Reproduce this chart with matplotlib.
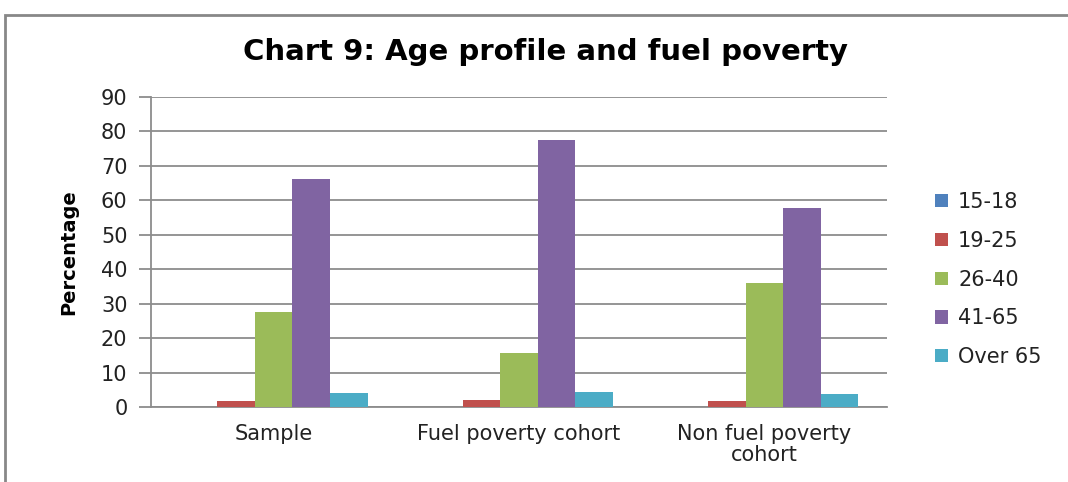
import matplotlib.pyplot as plt
import numpy as np
from matplotlib.patches import Rectangle

categories = ['Sample', 'Fuel poverty cohort', 'Non fuel poverty\ncohort']
groups = ['15-18', '19-25', '26-40', '41-65', 'Over 65']
age_15_18 = [0.0, 0.0, 0.0]
age_19_25 = [2.0, 2.3, 1.9]
age_26_40 = [27.7, 15.8, 36.1]
age_41_65 = [66.1, 77.4, 57.9]
age_over_65 = [4.1, 4.6, 3.8]
series = [age_15_18, age_19_25, age_26_40, age_41_65, age_over_65]
colors = ['#4F81BD', '#C0504D', '#9BBB59', '#8064A2', '#4BACC6']

fig = plt.figure(figsize=(10.68, 4.82), dpi=100)
ax = fig.add_axes([0.1414, 0.1546, 0.6891, 0.6442])

x = np.arange(len(categories))
w = 0.153
for i, (vals, c, lab) in enumerate(zip(series, colors, groups)):
    ax.bar(x + (i - 2) * w, vals, w, color=c, label=lab, zorder=3)

ax.set_xlim(-0.5, 2.5)
ax.set_ylim(0, 90)
ax.set_yticks(range(0, 91, 10))
ax.yaxis.grid(True, color='#8c8c8c', linewidth=1.3, zorder=0)
for s in ['top', 'right']:
    ax.spines[s].set_visible(False)
ax.spines['left'].set_color('#8c8c8c')
ax.spines['left'].set_linewidth(1.3)
ax.spines['bottom'].set_color('#8c8c8c')
ax.spines['bottom'].set_linewidth(1.3)
ax.tick_params(axis='y', length=9, width=1.3, color='#8c8c8c', labelsize=15, pad=8)
ax.tick_params(axis='x', length=0, labelsize=15, pad=12)
ax.set_xticks(x)
ax.set_xticklabels(categories, linespacing=1.05)
for t in ax.get_xticklabels() + ax.get_yticklabels():
    t.set_color('#222222')

ax.set_ylabel('Percentage', fontsize=14, fontweight='bold', labelpad=16)

fig.text(0.511, 0.893, 'Chart 9: Age profile and fuel poverty', ha='center', va='center',
         fontsize=21, fontweight='bold')

leg = ax.legend(loc='center left', bbox_to_anchor=(0.858, 0.42), bbox_transform=fig.transFigure,
                frameon=False, fontsize=15, handlelength=0.6, handleheight=0.6,
                labelspacing=0.9, handletextpad=0.5)
for t in leg.get_texts():
    t.set_color('#222222')

fig.patches.append(Rectangle((5 / 1068, -0.1), 1.2, 1 - 15 / 482 + 0.1, transform=fig.transFigure,
                             fill=False, edgecolor='#888888', linewidth=2))

fig.savefig('out.png', dpi=100)
